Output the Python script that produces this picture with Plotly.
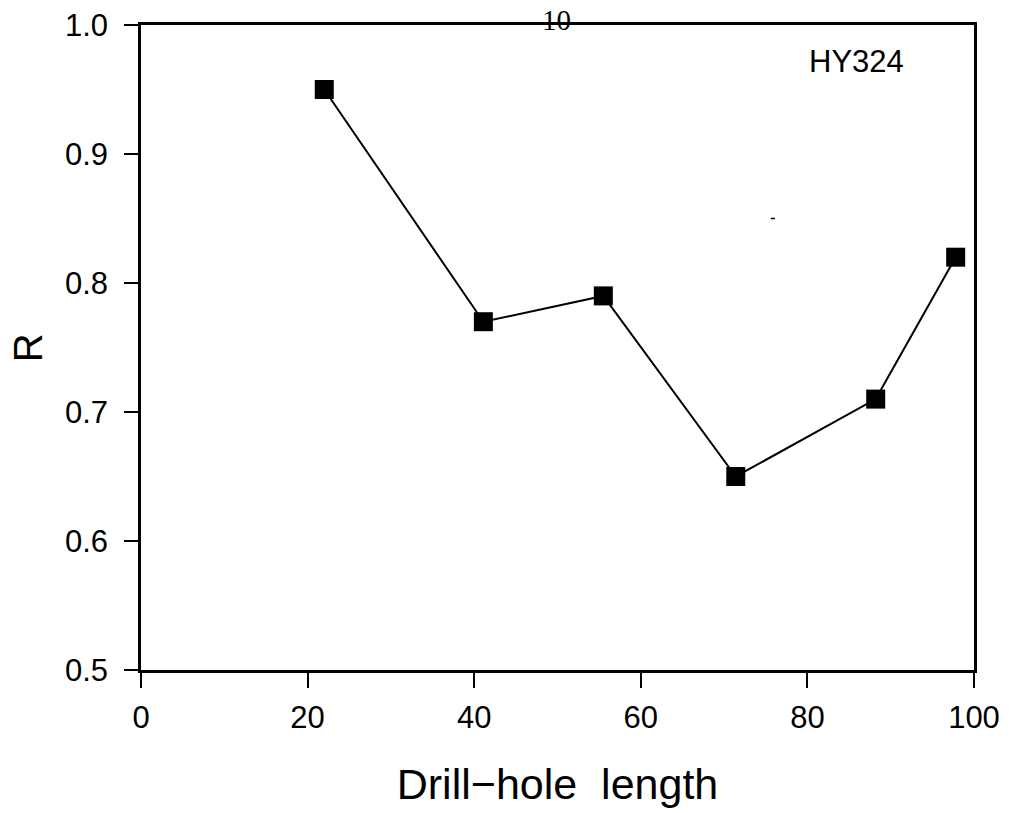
import plotly.graph_objects as go

# Data
drill_hole_length = [22.0, 41.1, 55.5, 71.4, 88.2, 97.8]
r_values = [0.95, 0.77, 0.79, 0.65, 0.71, 0.82]
x_ticks = [0, 20, 40, 60, 80, 100]
y_ticks = [0.5, 0.6, 0.7, 0.8, 0.9, 1.0]
y_tick_labels = ["0.5", "0.6", "0.7", "0.8", "0.9", "1.0"]
y_title = "R"
label_text = "HY324"
page_number = "10"

FONT = "Liberation Sans, Arial, sans-serif"

fig = go.Figure()
fig.add_trace(go.Scatter(
    x=drill_hole_length, y=r_values,
    mode="lines+markers",
    line=dict(color="black", width=2),
    marker=dict(symbol="square", size=19, color="black"),
    showlegend=False,
))

fig.update_layout(
    width=1010, height=813,
    margin=dict(l=141, r=36, t=25, b=143, autoexpand=False),
    paper_bgcolor="white", plot_bgcolor="white",
    font=dict(family=FONT, color="black", size=28),
    xaxis=dict(
        range=[0, 100], tickvals=x_ticks, ticktext=[str(v) for v in x_ticks],
        showgrid=False, zeroline=False, automargin=False,
        showline=True, linecolor="black", linewidth=2.5, mirror=True,
        ticks="outside", ticklen=15, tickwidth=2, tickcolor="black",
        tickfont=dict(size=31, family=FONT), ticklabelstandoff=3,
        title=dict(text="Drill\u2212hole  length", font=dict(size=43, family=FONT), standoff=35),
    ),
    yaxis=dict(
        range=[0.5, 1.0], tickvals=y_ticks, ticktext=y_tick_labels,
        showgrid=False, zeroline=False, automargin=False,
        showline=True, linecolor="black", linewidth=2.5, mirror=True,
        ticks="outside", ticklen=14, tickwidth=2, tickcolor="black",
        tickfont=dict(size=31, family=FONT), ticklabelstandoff=10,
    ),
)

# y-axis title (placed as rotated text to match the reference position)
fig.add_annotation(
    x=-0.136, y=0.5, xref="paper", yref="paper", xanchor="center", yanchor="middle",
    text=y_title, textangle=-90, showarrow=False,
    font=dict(size=40, family=FONT, color="black"),
)
fig.add_annotation(
    x=85.9, y=0.972, xref="x", yref="y", text=label_text, showarrow=False,
    font=dict(size=31, family=FONT, color="black"),
)
fig.add_annotation(
    x=49.9, y=1.008, xref="x", yref="paper", yanchor="middle", xanchor="center",
    text=page_number, showarrow=False,
    font=dict(size=29, family="Liberation Serif, Times New Roman, serif", color="black"),
)
# small speck present in the reference
fig.add_shape(type="rect", x0=75.6, x1=76.1, y0=0.8494, y1=0.8506,
              xref="x", yref="y", fillcolor="black", line=dict(width=0))

fig.write_html("out.html")
